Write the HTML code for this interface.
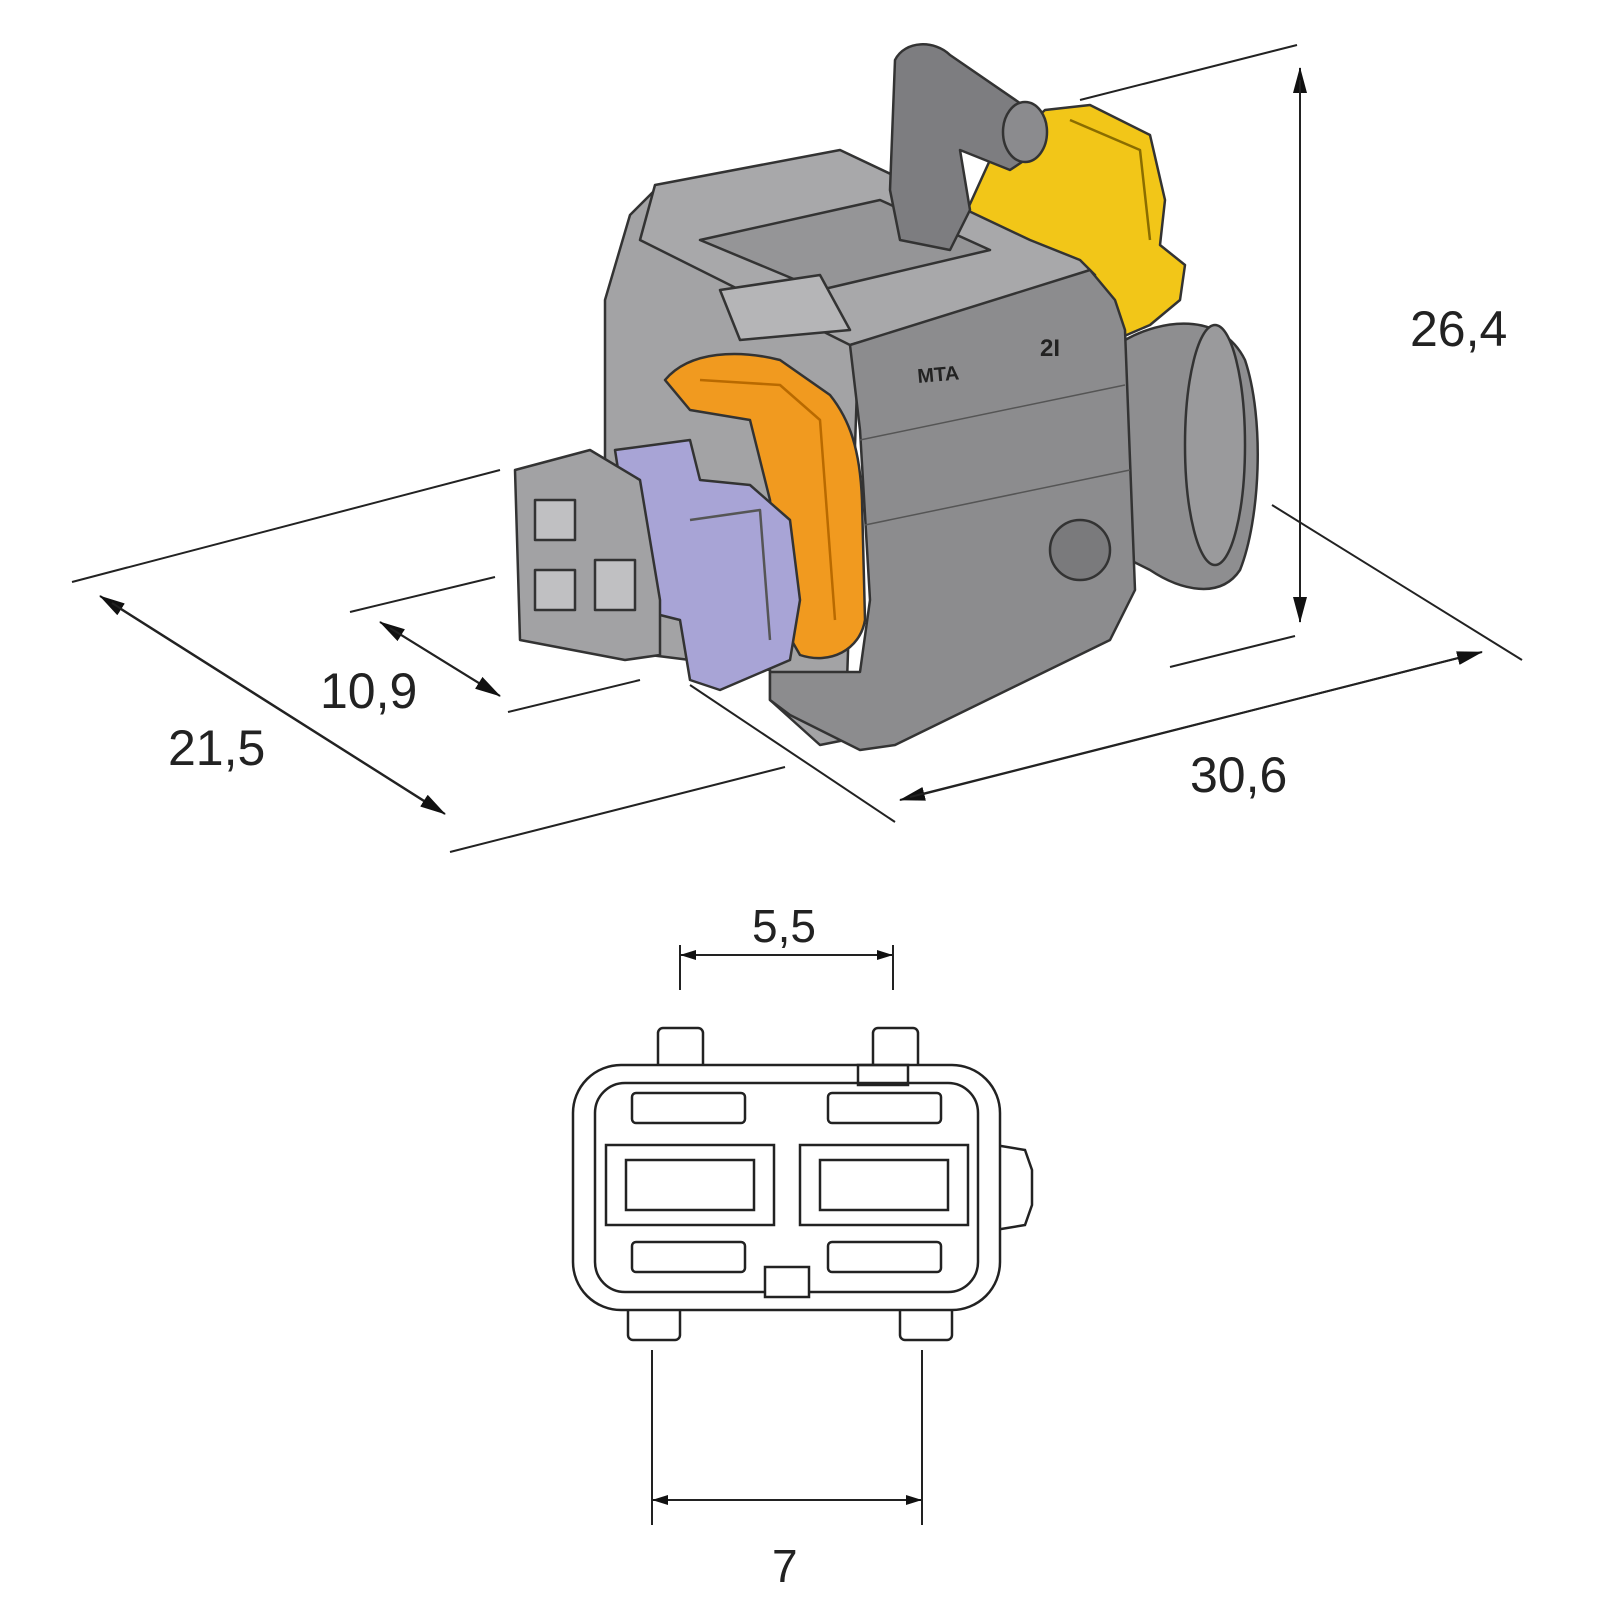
<!DOCTYPE html>
<html><head><meta charset="utf-8"><style>
html,body{margin:0;padding:0;background:#fff;}
svg{display:block;}
text{font-family:"Liberation Sans",Arial,sans-serif;fill:#222;}
</style></head><body>
<svg width="1600" height="1600" viewBox="0 0 1600 1600" xmlns="http://www.w3.org/2000/svg">
<defs>
<marker id="ar" markerWidth="16" markerHeight="10" refX="15" refY="5" orient="auto-start-reverse" markerUnits="userSpaceOnUse">
<path d="M0,0 L16,5 L0,10 z" fill="#111"/></marker>
<marker id="ar2" markerWidth="26" markerHeight="14" refX="25" refY="7" orient="auto" markerUnits="userSpaceOnUse">
<path d="M0,0 L26,7 L0,14 z" fill="#111"/></marker>
</defs>
<g stroke="#222" stroke-width="2" fill="none">
<line x1="72" y1="582" x2="500" y2="470"/>
<line x1="450" y1="852" x2="785" y2="767"/>
<line x1="350" y1="612" x2="495" y2="577"/>
<line x1="508" y1="712" x2="640" y2="680"/>
<line x1="690" y1="685" x2="895" y2="822"/>
<line x1="1272" y1="505" x2="1522" y2="660"/>
<line x1="1170" y1="667" x2="1295" y2="636"/>
<line x1="1080" y1="100" x2="1297" y2="45"/>
<line x1="430" y1="805" x2="100" y2="596" marker-end="url(#ar2)"/>
<line x1="112" y1="603" x2="445" y2="814" marker-end="url(#ar2)"/>
<line x1="490" y1="690" x2="380" y2="622" marker-end="url(#ar2)"/>
<line x1="390" y1="628" x2="500" y2="696" marker-end="url(#ar2)"/>
<line x1="1470" y1="655" x2="900" y2="800" marker-end="url(#ar2)"/>
<line x1="910" y1="797" x2="1482" y2="652" marker-end="url(#ar2)"/>
<line x1="1300" y1="610" x2="1300" y2="68" marker-end="url(#ar2)"/>
<line x1="1300" y1="80" x2="1300" y2="622" marker-end="url(#ar2)"/>
</g>
<text x="168" y="765" font-size="50">21,5</text>
<text x="320" y="708" font-size="50">10,9</text>
<text x="1190" y="792" font-size="50">30,6</text>
<text x="1410" y="346" font-size="50">26,4</text>

<g stroke="#333" stroke-width="2.5" stroke-linejoin="round">
<path d="M1125,340 C1160,320 1220,310 1245,360 C1265,420 1260,520 1240,570 C1220,600 1180,590 1150,570 L1130,560 Z" fill="#8e8e90"/>
<ellipse cx="1215" cy="445" rx="30" ry="120" fill="#9a9a9c"/>
<path d="M1045,110 L1090,105 L1150,135 L1165,200 L1160,245 L1185,265 L1180,300 L1150,325 L1115,340 L1060,330 L1000,280 L965,215 L990,160 Z" fill="#f2c618"/>
<path d="M1070,120 L1140,150 L1150,240" fill="none" stroke="#8a6d00"/>
<path d="M630,215 L660,185 L845,160 L860,300 L845,740 L820,745 L770,700 L770,670 L650,655 L605,620 L605,300 Z" fill="#a3a3a5"/>
<path d="M655,185 L840,150 L1030,240 L1080,260 L1095,275 L850,345 L640,240 Z" fill="#a8a8aa"/>
<path d="M700,240 L880,200 L990,250 L820,290 Z" fill="#959597"/>
<path d="M720,290 L820,275 L850,330 L740,340 Z" fill="#b5b5b7"/>
<path d="M895,60 C905,40 935,40 950,55 L1030,110 L1040,150 L1010,170 L960,150 L970,210 L950,250 L900,240 L890,190 Z" fill="#7d7d80"/>
<ellipse cx="1025" cy="132" rx="22" ry="30" fill="#8b8b8e"/>
<path d="M850,345 L1090,270 L1115,300 L1125,330 L1135,590 L1110,640 L895,745 L860,750 L830,735 L790,715 L770,700 L770,672 L860,672 L870,600 L860,430 Z" fill="#8c8c8e"/>
<line x1="860" y1="440" x2="1125" y2="385" stroke="#555" stroke-width="1.5"/>
<line x1="865" y1="525" x2="1130" y2="470" stroke="#555" stroke-width="1.5"/>
<circle cx="1080" cy="550" r="30" fill="#7a7a7c"/>
<path d="M665,380 C690,350 740,350 780,360 L830,395 C850,420 860,450 862,500 L865,620 C860,650 830,665 800,655 L780,620 L770,500 L750,420 L690,410 Z" fill="#f19a1f"/>
<path d="M700,380 L780,385 L820,420 L835,620" fill="none" stroke="#b96a00"/>
<path d="M615,450 L690,440 L700,480 L750,485 L790,520 L800,600 L790,660 L720,690 L690,680 L680,620 L640,610 Z" fill="#a8a4d6"/>
<path d="M690,520 L760,510 L770,640" fill="none" stroke="#555"/>
<path d="M515,470 L590,450 L640,480 L660,600 L660,655 L625,660 L520,640 Z" fill="#a2a2a4"/>
<rect x="535" y="500" width="40" height="40" fill="#c0c0c2"/>
<rect x="535" y="570" width="40" height="40" fill="#c0c0c2"/>
<rect x="595" y="560" width="40" height="50" fill="#c0c0c2"/>
</g>
<text x="918" y="383" font-size="20" font-weight="bold" transform="rotate(-5 918 383)">MTA</text>
<text x="1040" y="356" font-size="24" font-weight="bold">2I</text>

<g stroke="#222" stroke-width="2.5" fill="#fff">
<rect x="658" y="1028" width="45" height="45" rx="5"/>
<rect x="873" y="1028" width="45" height="45" rx="5"/>
<rect x="628" y="1295" width="52" height="45" rx="5"/>
<rect x="900" y="1295" width="52" height="45" rx="5"/>
<path d="M995,1145 L1025,1150 L1032,1170 L1032,1205 L1025,1225 L995,1230 Z"/>
<rect x="573" y="1065" width="427" height="245" rx="48"/>
<rect x="595" y="1083" width="383" height="209" rx="30"/>
<rect x="632" y="1093" width="113" height="30" rx="4"/>
<rect x="828" y="1093" width="113" height="30" rx="4"/>
<rect x="632" y="1242" width="113" height="30" rx="4"/>
<rect x="828" y="1242" width="113" height="30" rx="4"/>
<rect x="606" y="1145" width="168" height="80"/>
<rect x="626" y="1160" width="128" height="50"/>
<rect x="800" y="1145" width="168" height="80"/>
<rect x="820" y="1160" width="128" height="50"/>
<rect x="765" y="1267" width="44" height="30"/>
<rect x="858" y="1065" width="50" height="20" fill="none"/>
</g>
<g stroke="#222" stroke-width="2" fill="none">
<line x1="680" y1="945" x2="680" y2="990"/>
<line x1="893" y1="945" x2="893" y2="990"/>
<line x1="681" y1="955" x2="892" y2="955" marker-start="url(#ar)" marker-end="url(#ar)"/>
<line x1="652" y1="1350" x2="652" y2="1525"/>
<line x1="922" y1="1350" x2="922" y2="1525"/>
<line x1="653" y1="1500" x2="921" y2="1500" marker-start="url(#ar)" marker-end="url(#ar)"/>
</g>
<text x="752" y="942" font-size="46">5,5</text>
<text x="772" y="1582" font-size="46">7</text>
</svg>
</body></html>
